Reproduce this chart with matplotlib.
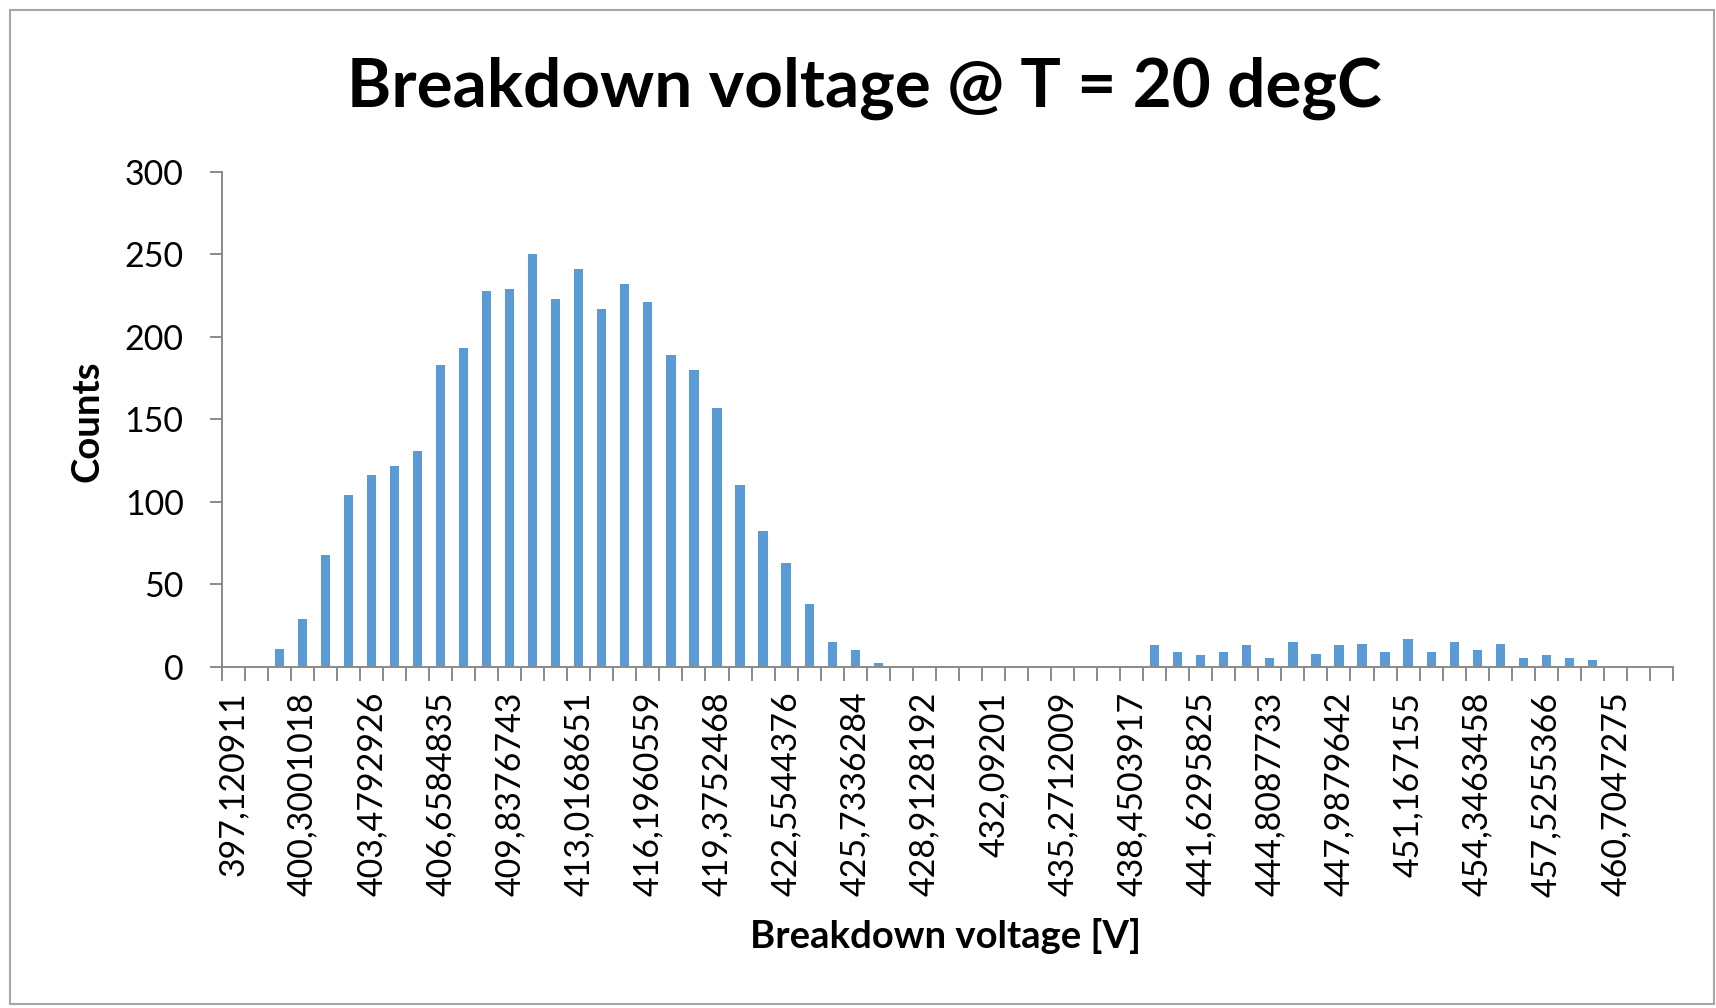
import matplotlib
matplotlib.use('Agg')
import matplotlib.pyplot as plt
from matplotlib.patches import Rectangle
import numpy as np

plt.rcParams['font.family'] = ['Lato', 'DejaVu Sans']

# histogram counts per voltage bin (63 bins, step ~1.0597 V starting at 397.120911)
counts = [0, 0, 11, 29, 68, 104, 116, 122, 131, 183, 193, 228, 229, 250, 223,
          241, 217, 232, 221, 189, 180, 157, 110, 82, 63, 38, 15, 10, 2,
          0, 0, 0, 0, 0, 0, 0, 0, 0, 0, 0,
          13, 9, 7, 9, 13, 5, 15, 8, 13, 14, 9, 17, 9, 15, 10, 14, 5, 7, 5, 4,
          0, 0, 0]

# only every third bin carries a visible label
tick_labels = ["397,120911", "400,3001018", "403,4792926", "406,6584835",
               "409,8376743", "413,0168651", "416,1960559", "419,3752468",
               "422,5544376", "425,7336284", "428,9128192", "432,09201",
               "435,2712009", "438,4503917", "441,6295825", "444,8087733",
               "447,9879642", "451,167155", "454,3463458", "457,5255366",
               "460,7047275"]
label_step = 3

W, H = 1716, 1008
fig = plt.figure(figsize=(W / 100, H / 100), dpi=100)
ax = fig.add_axes([221.7 / W, 1 - 666.7 / H, (1673 - 221.7) / W, (666.7 - 172) / H])

x = np.arange(len(counts))
ax.bar(x, counts, width=0.4, color='#5B9BD5', zorder=2)

ax.set_xlim(-0.5, len(counts) - 0.5)
ax.set_ylim(0, 300)
ax.set_yticks(np.arange(0, 301, 50))

# boundary ticks (marks only) and label ticks (labels only)
ax.set_xticks(np.arange(-0.5, len(counts), 1.0))
ax.set_xticklabels([])
ax.set_xticks(np.arange(len(tick_labels)) * label_step, minor=True)
ax.set_xticklabels(tick_labels, minor=True, rotation=90, ha='center', va='top')

axis_col = '#898989'
for s in ['top', 'right']:
    ax.spines[s].set_visible(False)
for s in ['left', 'bottom']:
    ax.spines[s].set_color(axis_col)
    ax.spines[s].set_linewidth(1.4)

ax.tick_params(axis='x', which='major', length=10, width=1.4, color=axis_col, direction='out')
ax.tick_params(axis='x', which='minor', length=0, pad=18, labelsize=24.5, labelcolor='black')
ax.tick_params(axis='y', length=8.4, width=1.4, color=axis_col, pad=19, labelsize=24.5,
               labelcolor='black')

fig.text(864.5 / W, 1 - 107 / H, 'Breakdown voltage @ T = 20 degC', ha='center',
         va='baseline', fontsize=48.5, fontweight='bold')
fig.text(87.5 / W, 1 - 421 / H, 'Counts', rotation=90, ha='center', va='center',
         fontsize=27.5, fontweight='bold')
fig.text(945.5 / W, 1 - 936 / H, 'Breakdown voltage [V]', ha='center', va='center',
         fontsize=27.5, fontweight='bold')

# chart area frame
fig.patches.append(Rectangle((10 / W, 4 / H), 1704 / W, 994 / H, transform=fig.transFigure,
                             fill=False, edgecolor='#a6a6a6', linewidth=1.5))

fig.savefig('out.png', dpi=100)
